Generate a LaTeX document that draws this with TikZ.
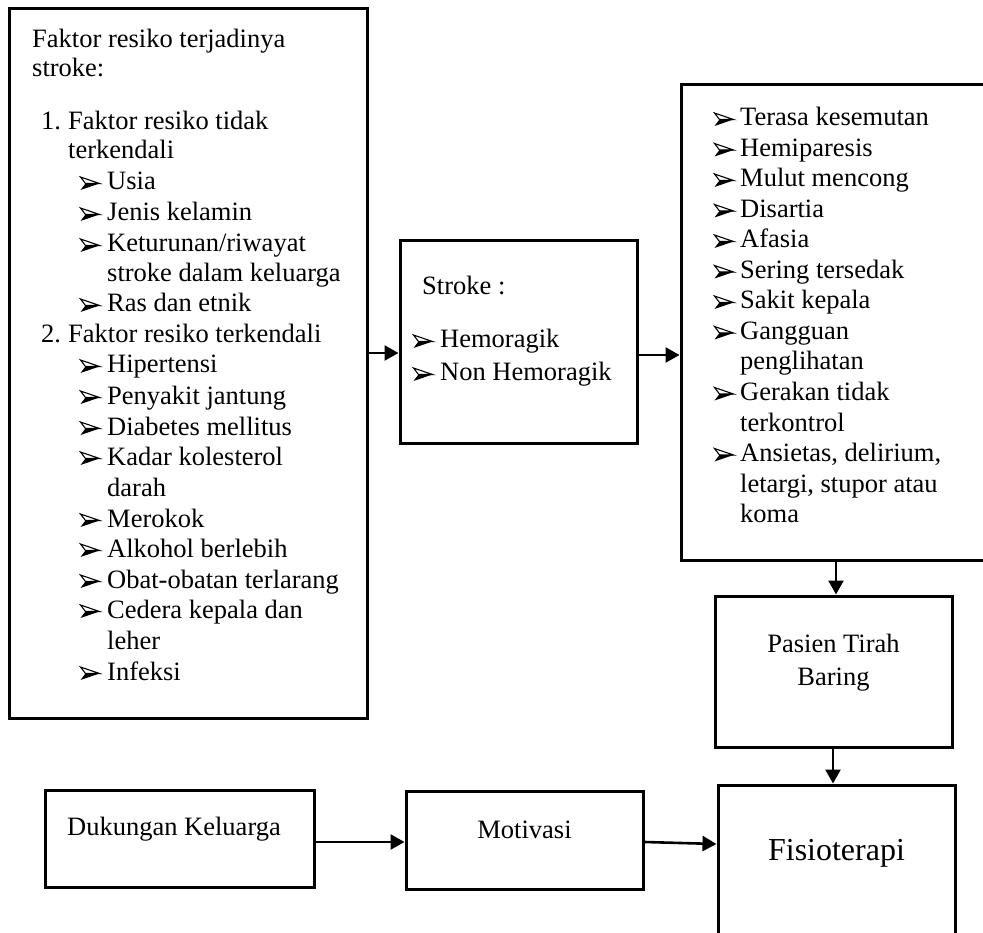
\documentclass[tikz,border=0pt]{standalone}
\usepackage{fontspec}
\setmainfont{Liberation Serif}
\usetikzlibrary{arrows.meta}
\tikzset{
  box/.style={draw, line width=3pt, inner sep=0pt, rectangle},
  txt/.style={anchor=base west, inner sep=0pt, font=\fontsize{26.5}{30.5}\selectfont},
  ctxt/.style={anchor=base, inner sep=0pt, font=\fontsize{26.5}{30.5}\selectfont},
  big/.style={anchor=base, inner sep=0pt, font=\fontsize{32}{36}\selectfont},
  arr/.style={line width=2.6pt, -{Triangle[length=14pt,width=15pt]}},
  arrbullet/.pic={
    \draw[line width=1.1pt, line join=miter] (0.5,-13) -- (19.5,-6.5) -- (5.5,-6.5) -- cycle;
    \fill (5.5,-6.5) -- (19.5,-6.5) -- (0.5,0) -- cycle;
  },
}
\begin{document}
\begin{tikzpicture}[x=1pt,y=-1pt]
\useasboundingbox (0,0) rectangle (983,933);
\clip (0,0) rectangle (983,933);

% boxes
\node[box, minimum width=358pt, minimum height=709pt] (A) at (188,363.5) {};
\node[box, minimum width=237pt, minimum height=202pt] (S) at (518.5,342) {};
\node[box, minimum width=329pt, minimum height=475pt] (G) at (845.5,322.5) {};
\node[box, minimum width=237pt, minimum height=151pt] (P) at (833.5,671.5) {};
\node[box, minimum width=237pt, minimum height=175pt] (F) at (836.5,872.5) {};
\node[box, minimum width=269pt, minimum height=97pt] (D) at (179.5,838.5) {};
\node[box, minimum width=237pt, minimum height=98pt] (M) at (524.5,840) {};

% left box text
\node[txt] (a1) at (32,48) {Faktor resiko terjadinya};
\node[txt] (a2) at (32,77) {stroke:};
\node[txt] (n1) at (41,130) {1.};
\node[txt] (a3) at (68,130) {Faktor resiko tidak};
\node[txt] (a4) at (68,159) {terkendali};
\pic at (80,190) {arrbullet};  \node[txt] (a5) at (107,190) {Usia};
\pic at (80,221) {arrbullet};  \node[txt] (a6) at (107,221) {Jenis kelamin};
\pic at (80,252) {arrbullet};  \node[txt] (a7) at (107,252) {Keturunan/riwayat};
\node[txt] (a8) at (107,282) {stroke dalam keluarga};
\pic at (80,312) {arrbullet};  \node[txt] (a9) at (107,312) {Ras dan etnik};
\node[txt] (n2) at (41,343) {2.};
\node[txt] (a10) at (68,343) {Faktor resiko terkendali};
\pic at (80,373) {arrbullet}; \node[txt] (a11) at (107,373) {Hipertensi};
\pic at (80,404) {arrbullet}; \node[txt] (a12) at (107,404) {Penyakit jantung};
\pic at (80,435) {arrbullet}; \node[txt] (a13) at (107,435) {Diabetes mellitus};
\pic at (80,465) {arrbullet}; \node[txt] (a14) at (107,465) {Kadar kolesterol};
\node[txt] (a15) at (107,496) {darah};
\pic at (80,527) {arrbullet}; \node[txt] (a16) at (107,527) {Merokok};
\pic at (80,557) {arrbullet}; \node[txt] (a17) at (107,557) {Alkohol berlebih};
\pic at (80,588) {arrbullet}; \node[txt] (a18) at (107,588) {Obat-obatan terlarang};
\pic at (80,618) {arrbullet}; \node[txt] (a19) at (107,618) {Cedera kepala dan};
\node[txt] (a20) at (107,649) {leher};
\pic at (80,680) {arrbullet}; \node[txt] (a21) at (107,680) {Infeksi};

% stroke box text
\node[txt] (s1) at (422,295) {Stroke :};
\pic at (413,348) {arrbullet}; \node[txt] (s2) at (440,348) {Hemoragik};
\pic at (413,381) {arrbullet}; \node[txt] (s3) at (440,381) {Non Hemoragik};

% symptoms box text
\pic at (714,126) {arrbullet};   \node[txt] (g1) at (740,126) {Terasa kesemutan};
\pic at (714,156.5) {arrbullet}; \node[txt] (g2) at (740,156.5) {Hemiparesis};
\pic at (714,187) {arrbullet};   \node[txt] (g3) at (740,187) {Mulut mencong};
\pic at (714,217.5) {arrbullet}; \node[txt] (g4) at (740,217.5) {Disartia};
\pic at (714,248) {arrbullet};   \node[txt] (g5) at (740,248) {Afasia};
\pic at (714,278.5) {arrbullet}; \node[txt] (g6) at (740,278.5) {Sering tersedak};
\pic at (714,309) {arrbullet};   \node[txt] (g7) at (740,309) {Sakit kepala};
\pic at (714,339.5) {arrbullet}; \node[txt] (g8) at (740,339.5) {Gangguan};
\node[txt] (g9) at (740,370) {penglihatan};
\pic at (714,400.5) {arrbullet}; \node[txt] (g10) at (740,400.5) {Gerakan tidak};
\node[txt] (g11) at (740,431) {terkontrol};
\pic at (714,461.5) {arrbullet}; \node[txt] (g12) at (740,461.5) {Ansietas, delirium,};
\node[txt] (g13) at (740,492) {letargi, stupor atau};
\node[txt] (g14) at (740,522.5) {koma};

% other texts
\node[ctxt] (p1) at (833.5,652) {Pasien Tirah};
\node[ctxt] (p2) at (833.5,685) {Baring};
\node[big] (f1) at (836.5,860) {Fisioterapi};
\node[txt] (d1) at (67,835) {Dukungan Keluarga};
\node[ctxt] (m1) at (524.5,838) {Motivasi};

% connector levels
\coordinate (h1) at (0,353);
\coordinate (h2) at (0,355);
\coordinate (h3) at (0,842);
\coordinate (h4) at (0,844);
\coordinate (v1) at (836,0);
\coordinate (v2) at (833,0);

\draw[arr] (A.east |- h1) -- (S.west |- h1);
\draw[arr] (S.east |- h2) -- (G.west |- h2);
\draw[arr] (G.south -| v1) -- (P.north -| v1);
\draw[arr] (P.south -| v2) -- (F.north -| v2);
\draw[arr] (D.east |- h3) -- (M.west |- h3);
\draw[arr] (M.east |- h3) -- (F.west |- h4);
\end{tikzpicture}
\end{document}
